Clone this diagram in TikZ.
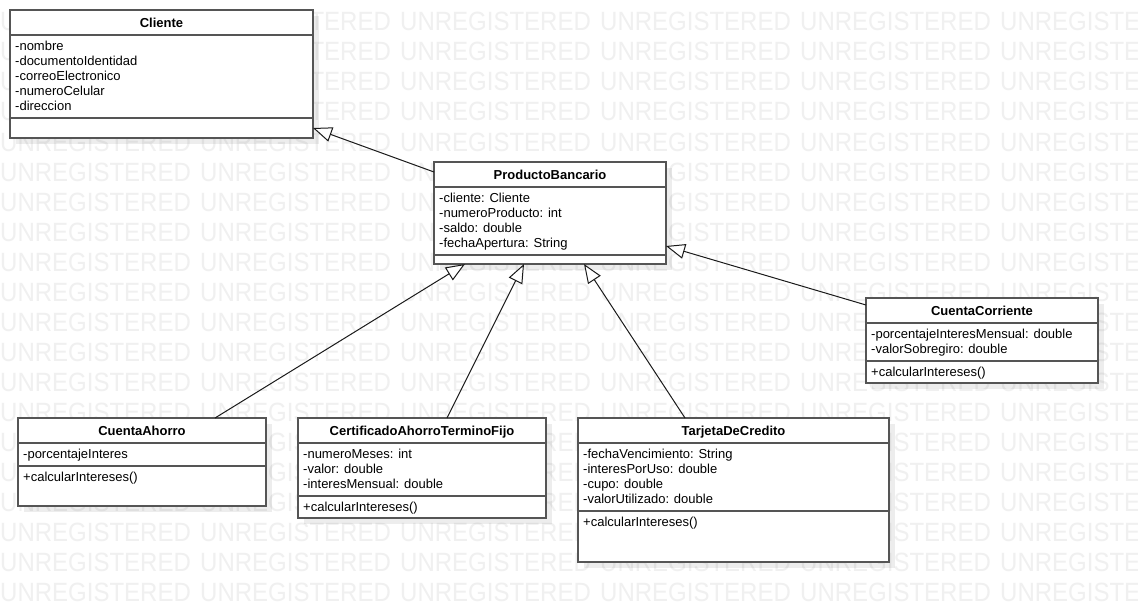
\documentclass[tikz,border=0pt]{standalone}
\usepackage{fontspec}
\usepackage{graphicx}
\setmainfont{Liberation Sans}
\usetikzlibrary{arrows.meta}
\definecolor{wm}{HTML}{F0F0F0}
\definecolor{bordc}{HTML}{555555}
\definecolor{linec}{HTML}{1A1A1A}
\tikzset{
  umlbox/.style={draw=bordc, line width=1.6pt, fill=white, inner sep=0pt, outer sep=0pt, anchor=north west},
  umlsep/.style={draw=bordc, line width=1.6pt},
  umlshadow/.style={fill=black, fill opacity=0.07},
  umltitle/.style={font=\fontsize{13}{15}\selectfont\bfseries, anchor=base, inner sep=0pt},
  member/.style={font=\fontsize{13}{15}\selectfont, anchor=base west, inner sep=0pt},
  gen/.style={draw=linec, line width=1pt, -{Triangle[open, length=19pt, width=15pt, fill=white]}},
  wmtext/.style={font=\fontsize{24}{24}\selectfont, text=wm, anchor=base west, inner sep=0pt},
}
% name, left, top, right, sep1, sep2, bottom, title
\newcommand\UMLclass[8]{%
  \fill[umlshadow] (#2+6,#3+6) rectangle (#4+6,#7+6);
  \node[umlbox, minimum width={(#4-#2)*1pt}, minimum height={(#7-#3)*1pt}] (#1) at (#2,#3) {};
  \draw[umlsep] (#2,#5) -- (#4,#5);
  \draw[umlsep] (#2,#6) -- (#4,#6);
  \node[umltitle] (#1-title) at ({(#2+#4)/2},#3+17.5) {#8};
}
\begin{document}
\begin{tikzpicture}[x=1pt,y=-1pt]
\useasboundingbox (0,0) rectangle (1138,602);
\clip (0,0) rectangle (1138,602);
\fill[white] (0,0) rectangle (1138,602);
% watermark
\foreach \r in {0,...,19} {
  \foreach \c in {0,...,5} {
    \node[wmtext] (wm-\r-\c) at (200*\c, 31+30*\r) {\scalebox{1}[1.1]{UNREGISTERED}};
  }
}
% classes
\UMLclass{cli}{10}{10}{313}{35}{118}{138}{Cliente}
\foreach \t [count=\i] in {-nombre,-documentoIdentidad,-correoElectronico,-numeroCelular,-direccion}
  \node[member] (cli-m\i) at (15, 35.5+15*\i) {\t};

\UMLclass{pb}{434}{162}{666}{187}{255}{264}{ProductoBancario}
\foreach \t [count=\i] in {-cliente: Cliente,-numeroProducto: int,-saldo: double,-fechaApertura: String}
  \node[member] (pb-m\i) at (439, 187.5+15*\i) {\t};

\UMLclass{cc}{866}{298}{1098}{323}{361}{383}{CuentaCorriente}
\foreach \t [count=\i] in {-porcentajeInteresMensual: double,-valorSobregiro: double}
  \node[member] (cc-m\i) at (871, 323.5+15*\i) {\t};
\node[member] (cc-op1) at (871, 376.5) {+calcularIntereses()};

\UMLclass{ca}{18}{418}{266}{443}{466}{506}{CuentaAhorro}
\node[member] (ca-m1) at (23, 458.5) {-porcentajeInteres};
\node[member] (ca-op1) at (23, 481.5) {+calcularIntereses()};

\UMLclass{catf}{298}{418}{546}{443}{496}{518}{CertificadoAhorroTerminoFijo}
\foreach \t [count=\i] in {-numeroMeses: int,-valor: double,-interesMensual: double}
  \node[member] (catf-m\i) at (303, 443.5+15*\i) {\t};
\node[member] (catf-op1) at (303, 511.5) {+calcularIntereses()};

\UMLclass{tdc}{578}{418}{889}{443}{511}{562}{TarjetaDeCredito}
\foreach \t [count=\i] in {-fechaVencimiento: String,-interesPorUso: double,-cupo: double,-valorUtilizado: double}
  \node[member] (tdc-m\i) at (583, 443.5+15*\i) {\t};
\node[member] (tdc-op1) at (583, 526.5) {+calcularIntereses()};

% connector end points on the box borders
\coordinate (pb-a) at (434,172);
\coordinate (cli-a) at (313,128);
\coordinate (cc-a) at (866,305);
\coordinate (pb-b) at (666,246);
\coordinate (ca-a) at (215,418);
\coordinate (pb-c) at (465,264);
\coordinate (catf-a) at (447,418);
\coordinate (pb-d) at (524,264);
\coordinate (tdc-a) at (685,418);
\coordinate (pb-e) at (584,264);

\draw[gen] (pb-a) -- (cli-a);
\draw[gen] (cc-a) -- (pb-b);
\draw[gen] (ca-a) -- (pb-c);
\draw[gen] (catf-a) -- (pb-d);
\draw[gen] (tdc-a) -- (pb-e);
\end{tikzpicture}
\end{document}
